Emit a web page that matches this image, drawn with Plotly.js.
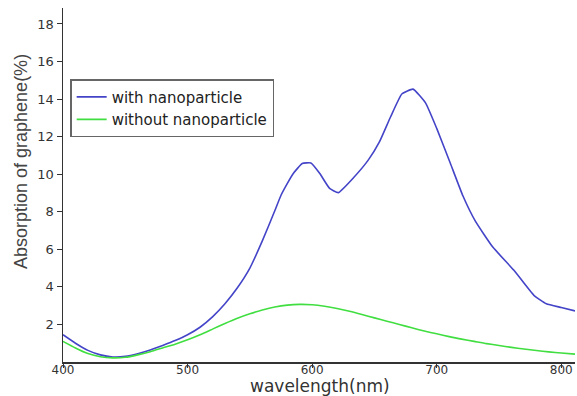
<!DOCTYPE html>
<html><head><meta charset="utf-8">
<script src="https://cdn.plot.ly/plotly-3.0.1.min.js"></script>
<style>html,body{margin:0;padding:0;background:#fff}#c{width:577px;height:396px}</style>
</head><body><div id="c"></div>
<script>
const blueX = [400,410,420,430,440,450,460,470,480,490,500,510,520,530,540,550,560,570,575,580,585,592,599,606,614,621,633,645,654,663,672,681,691,700,711,721,731,745,762,778,788,800,811];
const blueY = [1.45,1.0,0.62,0.38,0.27,0.3,0.44,0.64,0.88,1.14,1.45,1.85,2.4,3.1,3.95,5.0,6.45,8.05,8.88,9.5,10.05,10.57,10.6,10.05,9.24,9.02,9.8,10.75,11.72,13.06,14.27,14.53,13.8,12.44,10.57,8.85,7.5,6.12,4.88,3.55,3.1,2.9,2.72];
const greenX = [400,410,420,430,440,450,460,470,480,490,500,510,520,530,540,550,560,570,580,590,600,610,620,630,640,650,660,670,680,690,700,710,720,730,740,750,760,770,780,790,800,811];
const greenY = [1.1,0.75,0.45,0.28,0.22,0.25,0.38,0.55,0.75,0.95,1.18,1.45,1.75,2.05,2.33,2.57,2.77,2.93,3.03,3.07,3.05,2.97,2.85,2.7,2.53,2.35,2.17,2.0,1.82,1.65,1.5,1.35,1.22,1.1,0.98,0.88,0.78,0.69,0.61,0.54,0.48,0.42];
const seriesNames = ["with nanoparticle", "without nanoparticle"];
const xTicks = [400,500,600,700,800];
const yTicks = [2,4,6,8,10,12,14,16,18];
const xTitle = "wavelength(nm)";
const yTitle = "Absorption of graphene(%)";

const font = "DejaVu Sans, sans-serif";
const data = [
  {x: blueX, y: blueY, name: seriesNames[0], type: "scatter", mode: "lines",
   line: {color: "#4444c8", width: 1.6, shape: "spline", smoothing: 0.4}},
  {x: greenX, y: greenY, name: seriesNames[1], type: "scatter", mode: "lines",
   line: {color: "#40de40", width: 1.6, shape: "spline", smoothing: 0.6}}
];
const layout = {
  width: 577, height: 396,
  margin: {l: 63, r: 2, t: 8, b: 34},
  paper_bgcolor: "#fff", plot_bgcolor: "#fff",
  font: {family: font, color: "#333", size: 13},
  showlegend: true,
  legend: {x: 0.014, y: 0.799, xanchor: "left", yanchor: "top",
    bgcolor: "#fff", bordercolor: "#666", borderwidth: 1.5,
    font: {family: font, size: 15, color: "#222"}, tracegroupgap: 0},
  xaxis: {range: [400, 811], tickvals: xTicks, ticks: "outside", ticklen: 4,
    tickcolor: "#333", showline: true, linecolor: "#333", linewidth: 1.5,
    showgrid: false, zeroline: false, tickfont: {size: 12, color: "#333"},
    ticklabelstandoff: -8},
  yaxis: {range: [0, 18.85], tickvals: yTicks, ticks: "outside", ticklen: 5,
    tickcolor: "#333", showline: true, linecolor: "#333", linewidth: 1.5,
    showgrid: false, zeroline: false, tickfont: {size: 13, color: "#333"}},
  annotations: [
    {text: xTitle, xref: "paper", yref: "paper", x: 0.501, y: -0.069,
     xanchor: "center", yanchor: "middle", showarrow: false,
     font: {family: font, size: 17, color: "#333"}},
    {text: yTitle, xref: "paper", yref: "paper", x: -0.082, y: 0.565,
     xanchor: "center", yanchor: "middle", showarrow: false, textangle: -90,
     font: {family: "Liberation Sans, Arial, sans-serif", size: 18, color: "#444"}}
  ]
};
Plotly.newPlot("c", data, layout, {displayModeBar: false, staticPlot: true});
</script></body></html>
